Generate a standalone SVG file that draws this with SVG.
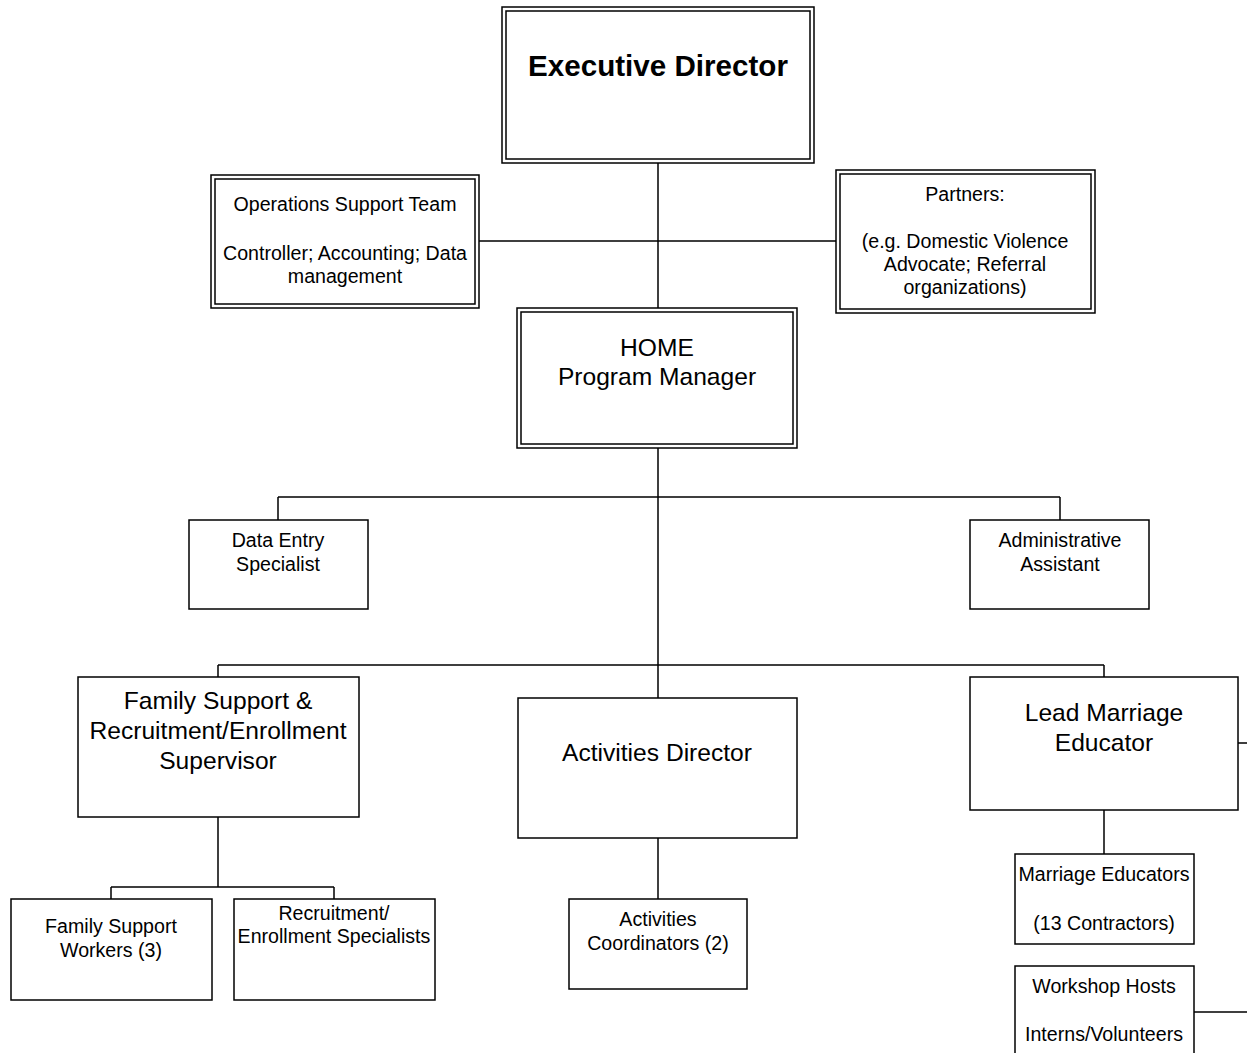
<svg xmlns="http://www.w3.org/2000/svg" width="1247" height="1053" viewBox="0 0 1247 1053">
<style>
.b{fill:#fff;stroke:#000;stroke-width:1.5}
.i{fill:none;stroke:#000;stroke-width:1.5}
.c{fill:none;stroke:#000;stroke-width:1.5}
text{font-family:"Liberation Sans",Arial,sans-serif;fill:#000;text-anchor:middle}
.s{font-size:19.6px}
.m{font-size:24.6px}
.l{font-size:29.6px;font-weight:bold}
</style>
<rect width="1247" height="1053" fill="#fff"/>
<g id="connectors">
<path class="c" d="M658 163V308M479 241H836"/>
<path class="c" d="M658 448V698M278 497H1060M278 497V520M1060 497V520"/>
<path class="c" d="M218 665H1104M218 665V677M1104 665V677"/>
<path class="c" d="M218 817V887M111 887H334M111 887V899M334 887V899"/>
<path class="c" d="M658 838V899"/>
<path class="c" d="M1104 810V854"/>
<path class="c" d="M1238 743H1247M1194 1012H1247"/>
</g>
<g id="executive-director">
<rect class="b" x="502" y="7" width="312" height="156"/>
<rect class="i" x="506" y="11" width="304" height="148"/>
<text class="l" x="658" y="76">Executive Director</text>
</g>
<g id="operations-support">
<rect class="b" x="211" y="175" width="268" height="133"/>
<rect class="i" x="215" y="179" width="260" height="125"/>
<text class="s" x="345" y="211">Operations Support Team</text>
<text class="s" x="345" y="260">Controller; Accounting; Data</text>
<text class="s" x="345" y="283">management</text>
</g>
<g id="partners">
<rect class="b" x="836" y="170" width="259" height="143"/>
<rect class="i" x="840" y="174" width="251" height="135"/>
<text class="s" x="965" y="201">Partners:</text>
<text class="s" x="965" y="248">(e.g. Domestic Violence</text>
<text class="s" x="965" y="271">Advocate; Referral</text>
<text class="s" x="965" y="294">organizations)</text>
</g>
<g id="program-manager">
<rect class="b" x="517" y="308" width="280" height="140"/>
<rect class="i" x="521" y="312" width="272" height="132"/>
<text class="m" x="657" y="356">HOME</text>
<text class="m" x="657" y="385">Program Manager</text>
</g>
<g id="data-entry">
<rect class="b" x="189" y="520" width="179" height="89"/>
<text class="s" x="278" y="547">Data Entry</text>
<text class="s" x="278" y="571">Specialist</text>
</g>
<g id="admin-assistant">
<rect class="b" x="970" y="520" width="179" height="89"/>
<text class="s" x="1060" y="547">Administrative</text>
<text class="s" x="1060" y="571">Assistant</text>
</g>
<g id="family-support-supervisor">
<rect class="b" x="78" y="677" width="281" height="140"/>
<text class="m" x="218" y="709">Family Support &amp;</text>
<text class="m" x="218" y="739">Recruitment/Enrollment</text>
<text class="m" x="218" y="769">Supervisor</text>
</g>
<g id="activities-director">
<rect class="b" x="518" y="698" width="279" height="140"/>
<text class="m" x="657" y="761">Activities Director</text>
</g>
<g id="lead-marriage-educator">
<rect class="b" x="970" y="677" width="268" height="133"/>
<text class="m" x="1104" y="721">Lead Marriage</text>
<text class="m" x="1104" y="751">Educator</text>
</g>
<g id="family-support-workers">
<rect class="b" x="11" y="899" width="201" height="101"/>
<text class="s" x="111" y="933">Family Support</text>
<text class="s" x="111" y="957">Workers (3)</text>
</g>
<g id="recruitment-specialists">
<rect class="b" x="234" y="899" width="201" height="101"/>
<text class="s" x="334" y="920">Recruitment/</text>
<text class="s" x="334" y="943">Enrollment Specialists</text>
</g>
<g id="activities-coordinators">
<rect class="b" x="569" y="899" width="178" height="90"/>
<text class="s" x="658" y="926">Activities</text>
<text class="s" x="658" y="950">Coordinators (2)</text>
</g>
<g id="marriage-educators">
<rect class="b" x="1015" y="854" width="179" height="90"/>
<text class="s" x="1104" y="881">Marriage Educators</text>
<text class="s" x="1104" y="930">(13 Contractors)</text>
</g>
<g id="workshop-hosts">
<rect class="b" x="1015" y="966" width="179" height="100"/>
<text class="s" x="1104" y="993">Workshop Hosts</text>
<text class="s" x="1104" y="1041">Interns/Volunteers</text>
</g>
</svg>
